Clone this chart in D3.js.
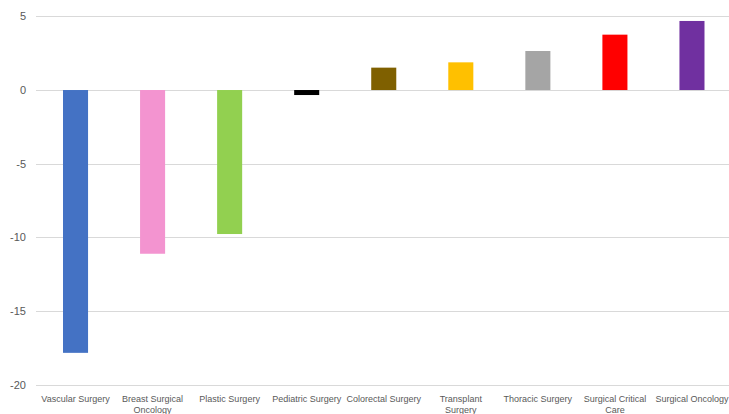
<!DOCTYPE html>
<html><head><meta charset="utf-8">
<script src="https://cdn.jsdelivr.net/npm/d3@7"></script>
<style>body{margin:0;background:#fff}svg{display:block}</style>
</head><body>
<svg id="c" width="729" height="414"></svg>
<script>
const categories = ["Vascular Surgery","Breast Surgical\nOncology","Plastic Surgery","Pediatric Surgery","Colorectal Surgery","Transplant\nSurgery","Thoracic Surgery","Surgical Critical\nCare","Surgical Oncology"];
const values = [-17.85, -11.12, -9.78, -0.34, 1.52, 1.88, 2.65, 3.76, 4.69];
const colors = ["#4472C4","#F394D0","#92D050","#000000","#7F6000","#FFC000","#A5A5A5","#FF0000","#7030A0"];
const yTicks = [5, 0, -5, -10, -15, -20];

const svg = d3.select("#c");
const x = d3.scaleBand().domain(categories).range([37, 730.5]).paddingInner(0.675).paddingOuter(0.3375);
const y = d3.scaleLinear().domain([-20, 5]).range([384.5, 16.4]);
const font = "'Liberation Sans', Arial, sans-serif";

svg.append("g").selectAll("line").data(yTicks).join("line")
  .attr("x1", 36).attr("x2", 729)
  .attr("y1", d => Math.round(y(d)) + 0.5).attr("y2", d => Math.round(y(d)) + 0.5)
  .attr("stroke", "#d9d9d9").attr("stroke-width", 1);

svg.append("g").selectAll("text").data(yTicks).join("text")
  .attr("x", 26).attr("y", d => y(d) + 4)
  .attr("text-anchor", "end").attr("font-family", font).attr("font-size", 11)
  .attr("fill", "#595959").text(d => d);

svg.append("g").selectAll("rect").data(values).join("rect")
  .attr("x", (d, i) => x(categories[i]))
  .attr("width", x.bandwidth())
  .attr("y", d => y(Math.max(0, d)))
  .attr("height", d => Math.abs(y(d) - y(0)))
  .attr("fill", (d, i) => colors[i]);

const lab = svg.append("g").selectAll("text").data(categories).join("text")
  .attr("x", d => x(d) + x.bandwidth() / 2).attr("y", 402)
  .attr("text-anchor", "middle").attr("font-family", font).attr("font-size", 9)
  .attr("fill", "#595959");
lab.each(function(d) {
  const t = d3.select(this);
  d.split("\n").forEach((s, k) => {
    t.append("tspan").attr("x", x(d) + x.bandwidth() / 2).attr("dy", k ? 11 : 0).text(s);
  });
});
</script>
</body></html>
